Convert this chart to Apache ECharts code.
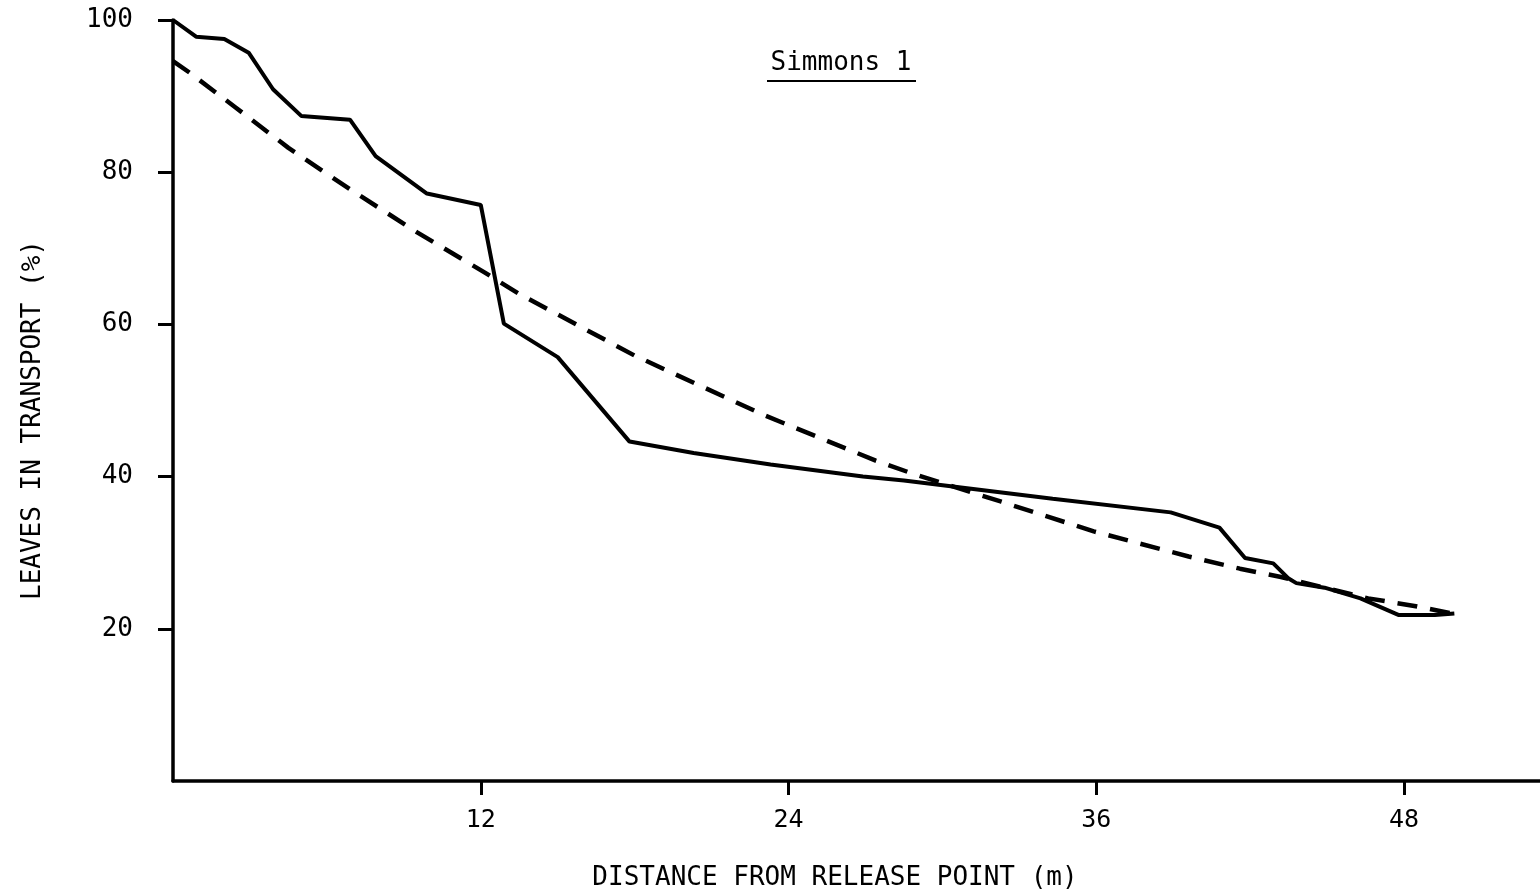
<!DOCTYPE html>
<html>
<head>
<meta charset="utf-8">
<script src="https://cdn.jsdelivr.net/npm/echarts@6/dist/echarts.min.js"></script>
<style>html,body{margin:0;padding:0;background:#fff}#c{width:1540px;height:894px}</style>
</head>
<body>
<div id="c"></div>
<script>
const chartTitle = 'Simmons 1';
const xAxisName = 'DISTANCE FROM RELEASE POINT (m)';
const yAxisName = 'LEAVES IN TRANSPORT (%)';
const xTicks = [12, 24, 36, 48];
const yTicks = [20, 40, 60, 80, 100];

const observedX = [0, 0.9, 2.0, 2.95, 3.9, 5.0, 6.9, 7.9, 9.9, 12.0, 12.9, 15.0, 17.8, 20.3, 23.3, 26.9, 28.5, 34.3, 38.9, 40.8, 41.8, 42.9, 43.5, 43.8, 44.9, 46.3, 47.8, 49.2, 49.96];
const observedY = [100, 97.8, 97.5, 95.7, 90.9, 87.4, 86.9, 82.1, 77.2, 75.7, 60.1, 55.7, 44.6, 43.1, 41.6, 40.0, 39.5, 37.1, 35.3, 33.3, 29.3, 28.6, 26.6, 26.0, 25.4, 24.0, 21.8, 21.8, 22.0];

const fittedX = [0, 0.64, 2.44, 4.5, 6.88, 9.52, 12.16, 13.5, 18.0, 23.1, 27.4, 29.0, 32.3, 35.9, 39.6, 41.6, 43.2, 46.6, 48.4, 49.9];
const fittedY = [94.6, 93.1, 88.5, 83.2, 77.8, 72.1, 66.8, 64.0, 55.9, 48.0, 42.1, 40.2, 36.7, 32.8, 29.5, 27.9, 26.8, 24.0, 23.0, 22.0];

const font = "'DejaVu Sans Mono', 'Liberation Mono', monospace";
const ink = '#000';

const chart = echarts.init(document.getElementById('c'));
chart.setOption({
  backgroundColor: '#fff',
  animation: false,
  grid: { left: 173, right: 0, top: 20, bottom: 113, containLabel: false },
  graphic: [
    { type: 'text', x: 841, y: 63, style: { text: chartTitle, font: '26px ' + font, fill: ink, textAlign: 'center', textVerticalAlign: 'middle' } },
    { type: 'line', shape: { x1: 767, y1: 81, x2: 916, y2: 81 }, style: { stroke: ink, lineWidth: 2 } },
    { type: 'text', x: 835, y: 878, style: { text: xAxisName, font: '26px ' + font, fill: ink, textAlign: 'center', textVerticalAlign: 'middle' } },
    { type: 'text', x: 33, y: 420, rotation: Math.PI / 2, style: { text: yAxisName, font: '26px ' + font, fill: ink, textAlign: 'center', textVerticalAlign: 'middle' } }
  ],
  xAxis: {
    type: 'value', min: 0, max: 53.3, interval: 12,
    axisLine: { show: true, lineStyle: { color: ink, width: 3.5 } },
    axisTick: { show: true, length: 14, inside: false, customValues: xTicks, lineStyle: { color: ink, width: 3 } },
    axisLabel: { customValues: xTicks, margin: 27, fontFamily: font, fontSize: 25, color: ink },
    splitLine: { show: false }
  },
  yAxis: {
    type: 'value', min: 0, max: 100, interval: 20,
    axisLine: { show: true, lineStyle: { color: ink, width: 3.5 } },
    axisTick: { show: true, length: 15, customValues: yTicks, lineStyle: { color: ink, width: 3 } },
    axisLabel: { customValues: yTicks, margin: 40, fontFamily: font, fontSize: 26, color: ink },
    splitLine: { show: false }
  },
  series: [
    {
      type: 'line', name: 'observed', symbol: 'none',
      data: observedX.map((x, i) => [x, observedY[i]]),
      lineStyle: { color: ink, width: 4, type: 'solid' }, z: 3
    },
    {
      type: 'line', name: 'fitted', symbol: 'none',
      data: fittedX.map((x, i) => [x, fittedY[i]]),
      lineStyle: { color: ink, width: 4.5, type: [20, 13] }, z: 2
    }
  ]
});
</script>
</body>
</html>
